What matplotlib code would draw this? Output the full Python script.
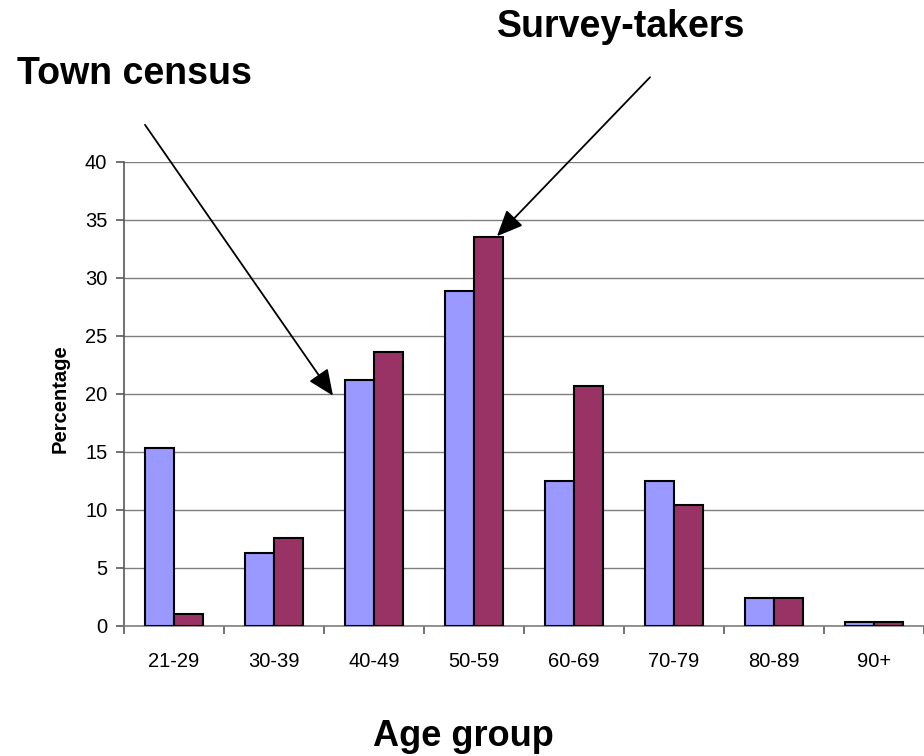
import matplotlib
matplotlib.use("Agg")
import matplotlib.pyplot as plt
import numpy as np

plt.rcParams['font.family'] = ['Liberation Sans', 'DejaVu Sans']

categories = ["21-29", "30-39", "40-49", "50-59", "60-69", "70-79", "80-89", "90+"]
town_census = [15.3, 6.3, 21.2, 28.9, 12.5, 12.5, 2.4, 0.3]
survey_takers = [1.0, 7.6, 23.6, 33.5, 20.7, 10.4, 2.4, 0.3]
y_ticks = [0, 5, 10, 15, 20, 25, 30, 35, 40]

fig = plt.figure(figsize=(9.24, 7.56), dpi=100)
ax = fig.add_axes([0.1342, 0.172, 0.8658, 0.6138])

x = np.arange(len(categories))
w = 0.29
ax.bar(x - w / 2, town_census, width=w, color='#9999FF', edgecolor='black', linewidth=1.5, zorder=3)
ax.bar(x + w / 2, survey_takers, width=w, color='#993366', edgecolor='black', linewidth=1.5, zorder=3)

ax.set_xlim(-0.5, len(categories) - 0.5)
ax.set_ylim(0, 40)
ax.set_yticks(y_ticks)
ax.yaxis.grid(True, color='#7f7f7f', linewidth=1.0, zorder=0)
ax.set_axisbelow(True)

for s in ['top', 'right']:
    ax.spines[s].set_visible(False)
ax.spines['left'].set_color('#595959')
ax.spines['bottom'].set_color('#7f7f7f')
ax.spines['left'].set_linewidth(1.2)
ax.spines['bottom'].set_linewidth(1.2)

ax.set_xticks(x)
ax.set_xticklabels(categories)
ax.set_xticks(np.arange(-0.5, len(categories), 1.0), minor=True)
ax.tick_params(axis='x', which='major', length=0, pad=19, labelsize=14.5)
ax.tick_params(axis='x', which='minor', length=6, width=1.2, color='#595959', direction='out')
ax.tick_params(axis='y', length=6, width=1.2, color='#595959', direction='out', pad=6, labelsize=14.5)

ax.set_ylabel("Percentage", fontsize=14.5, fontweight='bold')
ax.yaxis.set_label_coords(-0.08, 0.491)
ax.yaxis.label.set_va('center')
ax.set_xlabel("Age group", fontsize=26, fontweight='bold')
ax.xaxis.set_label_coords(0.424, -0.239)
ax.xaxis.label.set_va('center')

fig.text(0.145, 0.902, "Town census", fontsize=27, fontweight='bold', ha='center', va='center')
fig.text(0.672, 0.964, "Survey-takers", fontsize=27, fontweight='bold', ha='center', va='center')

arrow = dict(arrowstyle='-|>,head_length=0.8,head_width=0.35', mutation_scale=20,
             color='black', lw=1.3, shrinkA=0, shrinkB=0)
ax.annotate('', xy=(1.59, 19.85), xytext=(-0.29, 43.2), arrowprops=arrow, annotation_clip=False)
ax.annotate('', xy=(3.23, 33.6), xytext=(4.76, 47.3), arrowprops=arrow, annotation_clip=False)

fig.savefig("out.png", dpi=100)
